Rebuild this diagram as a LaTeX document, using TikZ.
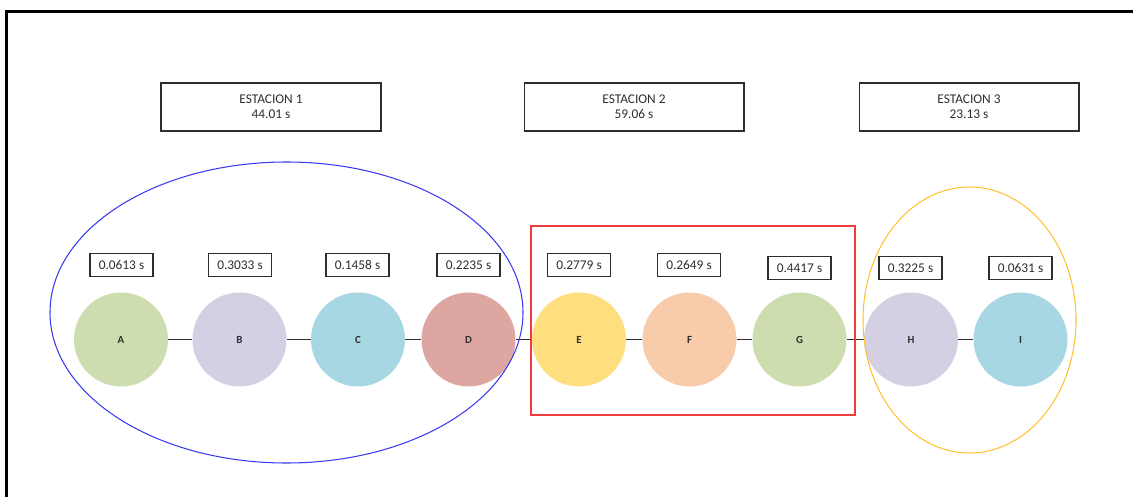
\documentclass[tikz,border=0pt]{standalone}
\usepackage{fontspec}
\setmainfont{Carlito}
\definecolor{verde}{HTML}{CDDDB0}
\definecolor{lila}{HTML}{D5CFE3}
\definecolor{celeste}{HTML}{A7D7E3}
\definecolor{rosa}{HTML}{DDA6A0}
\definecolor{amarillo}{HTML}{FEDE7E}
\definecolor{durazno}{HTML}{F8CBAB}
\definecolor{azul}{HTML}{3A3AF0}
\definecolor{rojo}{HTML}{F03C3C}
\definecolor{naranja}{HTML}{FFC12E}
\definecolor{texto}{HTML}{2E2E2E}

\begin{document}
\begin{tikzpicture}[x=0.02cm, y=-0.02cm, text=texto,
  font=\fontsize{7.6}{8.6}\selectfont,
  estacion/.style={draw=texto, line width=0.6pt, minimum width=4.4cm,
    minimum height=0.96cm, align=center, inner sep=0pt},
  tiempo/.style={draw=texto, line width=0.6pt, minimum width=1.26cm,
    minimum height=0.46cm, inner sep=0pt},
  tarea/.style={circle, fill=#1, minimum size=1.88cm, inner sep=0pt,
    font=\fontsize{6.2}{7}\selectfont\bfseries}]
  \useasboundingbox (0,0) rectangle (1133,497);
  % marco
  \draw[line width=1.5pt] (6.7,497) |- (1133,11.2);
  % estaciones
  \node[estacion] (est1) at (271,107) {ESTACION 1\\44.01 s};
  \node[estacion] (est2) at (634,107) {ESTACION 2\\59.06 s};
  \node[estacion] (est3) at (969,107) {ESTACION 3\\23.13 s};
  % tareas
  \foreach \n/\x/\c in {A/121/verde, B/239.5/lila, C/358/celeste, D/468.5/rosa,
      E/579/amarillo, F/689.5/durazno, G/799.5/verde, H/911/lila, I/1020.5/celeste}
    \node[tarea=\c] (\n) at (\x,339.5) {\n};
  \foreach \a/\b in {A/B, B/C, C/D, D/E, E/F, F/G, G/H, H/I}
    \draw[line width=0.6pt, texto] (\a) -- (\b);
  % tiempos
  \node[tiempo] (tA) at (121.5,265) {0.0613 s};
  \node[tiempo] (tB) at (240,265) {0.3033 s};
  \node[tiempo] (tC) at (357.5,265) {0.1458 s};
  \node[tiempo] (tD) at (468.5,265) {0.2235 s};
  \node[tiempo] (tE) at (579,265) {0.2779 s};
  \node[tiempo] (tF) at (689,265) {0.2649 s};
  \node[tiempo] (tG) at (799.5,268) {0.4417 s};
  \node[tiempo] (tH) at (910.5,268) {0.3225 s};
  \node[tiempo] (tI) at (1020.5,268) {0.0631 s};
  % agrupaciones
  \draw[azul, line width=0.6pt] (286.5,312.5) ellipse [x radius=236.5, y radius=150.5];
  \draw[rojo, line width=0.6pt] (531,226) rectangle (855,415);
  \draw[naranja, line width=0.6pt] (969.5,320) ellipse [x radius=106.5, y radius=133];
\end{tikzpicture}
\end{document}
